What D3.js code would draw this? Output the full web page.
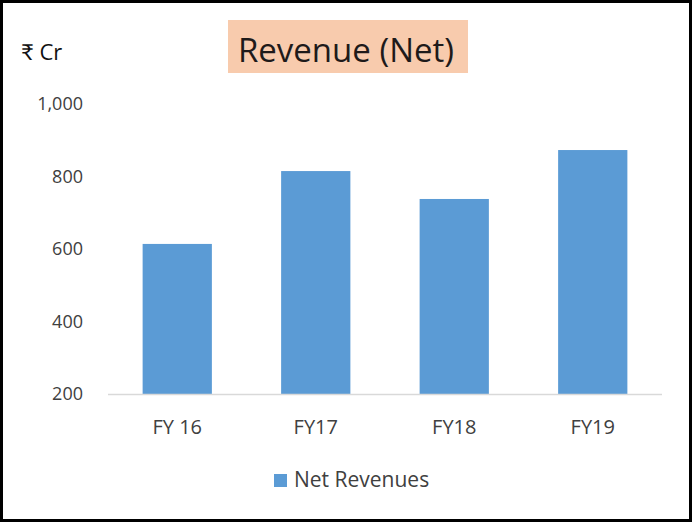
<html>
<head>
	<meta charset="utf-8">
	<title>Revenue (Net)</title>
	<script src="https://cdn.jsdelivr.net/npm/d3@7/dist/d3.min.js"></script>
	<style>
		body { margin: 0; background: #fff; }
		text { font-family: "Open Sans", Lato, sans-serif; fill: #404040; }
	</style>
</head>
<body>
	<svg id="chart"></svg>
</body>
<script>

// Data
var years = ["FY 16", "FY17", "FY18", "FY19"];
var revenues = [614, 815, 738, 873];
var yTicks = [200, 400, 600, 800, 1000];

var W = 692, H = 523;
var svg = d3.select("#chart").attr("width", W).attr("height", H);

// Frame
svg.append("rect")
	.attr("x", 1.5).attr("y", 1.5)
	.attr("width", W - 3).attr("height", H - 4)
	.attr("fill", "#fff").attr("stroke", "#000").attr("stroke-width", 3);

// Scales
var x = d3.scaleBand().domain(years).range([108, 662]).paddingInner(0.5).paddingOuter(0.25);
var y = d3.scaleLinear().domain([200, 1000]).range([394, 104]);

// Title
svg.append("rect")
	.attr("x", 228).attr("y", 20).attr("width", 240).attr("height", 53)
	.attr("fill", "#f8cbad");
svg.append("text")
	.attr("x", 346).attr("y", 62)
	.attr("text-anchor", "middle")
	.style("font-size", "33px").style("fill", "#1e1a1a")
	.text("Revenue (Net)");

// Unit label
svg.append("text")
	.attr("x", 21).attr("y", 60)
	.style("font-size", "22px").style("fill", "#111")
	.text("₹ Cr");

// Y tick labels
svg.selectAll(".ytick")
	.data(yTicks)
	.enter().append("text")
		.attr("class", "ytick")
		.attr("x", 83)
		.attr("y", function(d) { return y(d); })
		.attr("dy", "0.35em")
		.attr("text-anchor", "end")
		.style("font-size", "18px")
		.text(function(d) { return d3.format(",")(d); });

// Bars
svg.selectAll(".bar")
	.data(revenues)
	.enter().append("rect")
		.attr("class", "bar")
		.attr("x", function(d, i) { return x(years[i]); })
		.attr("width", x.bandwidth())
		.attr("y", function(d) { return y(d); })
		.attr("height", function(d) { return y(200) - y(d); })
		.attr("fill", "#5b9bd5");

// X axis line
svg.append("line")
	.attr("x1", 108).attr("x2", 662)
	.attr("y1", y(200) + 0.5).attr("y2", y(200) + 0.5)
	.attr("stroke", "#d9d9d9").attr("stroke-width", 1.5);

// X labels
svg.selectAll(".xlab")
	.data(years)
	.enter().append("text")
		.attr("class", "xlab")
		.attr("x", function(d) { return x(d) + x.bandwidth() / 2; })
		.attr("y", 434)
		.attr("text-anchor", "middle")
		.style("font-size", "20px")
		.text(function(d) { return d; });

// Legend
svg.append("rect")
	.attr("x", 274).attr("y", 474).attr("width", 13).attr("height", 13)
	.attr("fill", "#5b9bd5");
svg.append("text")
	.attr("x", 294).attr("y", 487)
	.style("font-size", "21px")
	.text("Net Revenues");
</script>
</html>
